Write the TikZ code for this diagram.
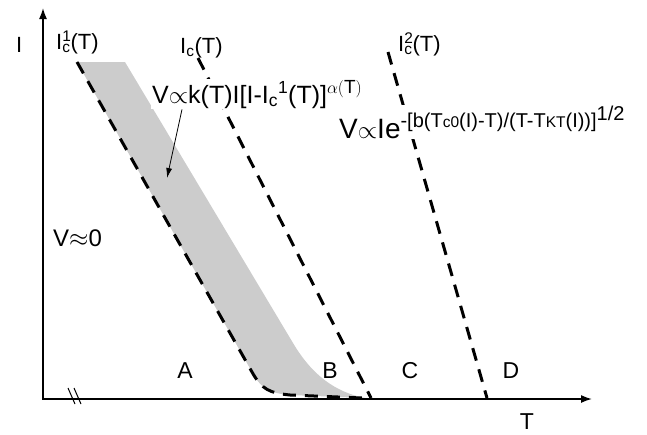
\documentclass[tikz,border=0pt]{standalone}
\usepackage{fontspec}
\setmainfont{Liberation Sans}
\usepackage{tikz}
\usetikzlibrary{arrows.meta, positioning, calc}
\definecolor{bandgray}{RGB}{204, 204, 204}

% I with stacked sub- and superscript
\newcommand{\Icrit}[1]{I\rlap{\textsuperscript{#1}}\textsubscript{c}}

\begin{document}
\begin{tikzpicture}[x=1pt, y=-1pt,
          axis/.style={{Latex[length=11pt,width=8pt]}-{Latex[length=11pt,width=8pt]}, line width=1.6pt},
          crit/.style={dash pattern=on 13pt off 9pt, line width=3pt},
          ptr/.style={-{Latex[length=10pt,width=6pt]}, line width=0.8pt},
          lbl/.style={anchor=base west, inner sep=0pt, font=\fontsize{22}{22}\selectfont},
          reg/.style={anchor=base, inner sep=0pt, font=\fontsize{23}{23}\selectfont},
          eqn/.style={anchor=base west, inner sep=1pt, fill=white}
        ]
        \useasboundingbox (0,0) rectangle (647,434);
        % Gray band between the two lower curves
        \fill[bandgray] (77,62) -- (125,62) -- (293,343)
              .. controls (312,375) and (335,392) .. (365,398)
              -- (290,395) .. controls (270,393) and (262,390) .. (252,372) -- cycle;
        % Axes
        \coordinate (o) at (43,399);
        \coordinate (ytip) at (43,8);
        \coordinate (xtip) at (592,399);
        \draw[axis] (ytip) -- (o) -- (xtip);
        \draw[line width=1pt] (68,388) -- (75,404) (74,388) -- (81,404);
        % Critical currents
        \draw[crit] (77,62) -- (252,372) .. controls (262,390) and (270,393) .. (290,395) -- (362,398);
        \draw[crit] (198,58) -- (371,398);
        \draw[crit] (388,52) -- (487,398);
        % Formulas
        \node[eqn, font=\fontsize{25}{25}\selectfont] (vflow) at (151,103)
          {V$\propto$k(T)I[I-I\textsubscript{c}\textsuperscript{1}(T)]\raisebox{10pt}{\fontsize{19}{19}\selectfont$\alpha(\mathrm{T})$}};
        \node[eqn, font=\fontsize{28}{28}\selectfont] (vkt) at (338,138)
          {V$\propto$Ie\raisebox{11pt}{\fontsize{20}{20}\selectfont -[b(T{\fontsize{15.5}{15.5}\selectfont c0}(I)-T)/(T-T{\fontsize{15.5}{15.5}\selectfont KT}(I))]\raisebox{7pt}{1/2}}};
        \coordinate (band) at (167,178);
        \draw[ptr] ([xshift=31pt]vflow.south west) -- (band);
        % Labels
        \node[lbl] (ylab) at (16,52) {I};
        \node[lbl] (ic1lab) at (56,49) {\Icrit{1}(T)};
        \node[lbl] (iclab) at (180,53) {I\textsubscript{c}(T)};
        \node[lbl] (ic2lab) at (398,51) {\Icrit{2}(T)};
        \node[lbl, font=\fontsize{24}{24}\selectfont] (vzero) at (53,246) {V$\approx$0};
        \node[reg] (regA) at (185,378) {A};
        \node[reg] (regB) at (330,378) {B};
        \node[reg] (regC) at (410,378) {C};
        \node[reg] (regD) at (511,378) {D};
        \node[reg] (xlab) at (527,429) {T};
      \end{tikzpicture}
\end{document}
